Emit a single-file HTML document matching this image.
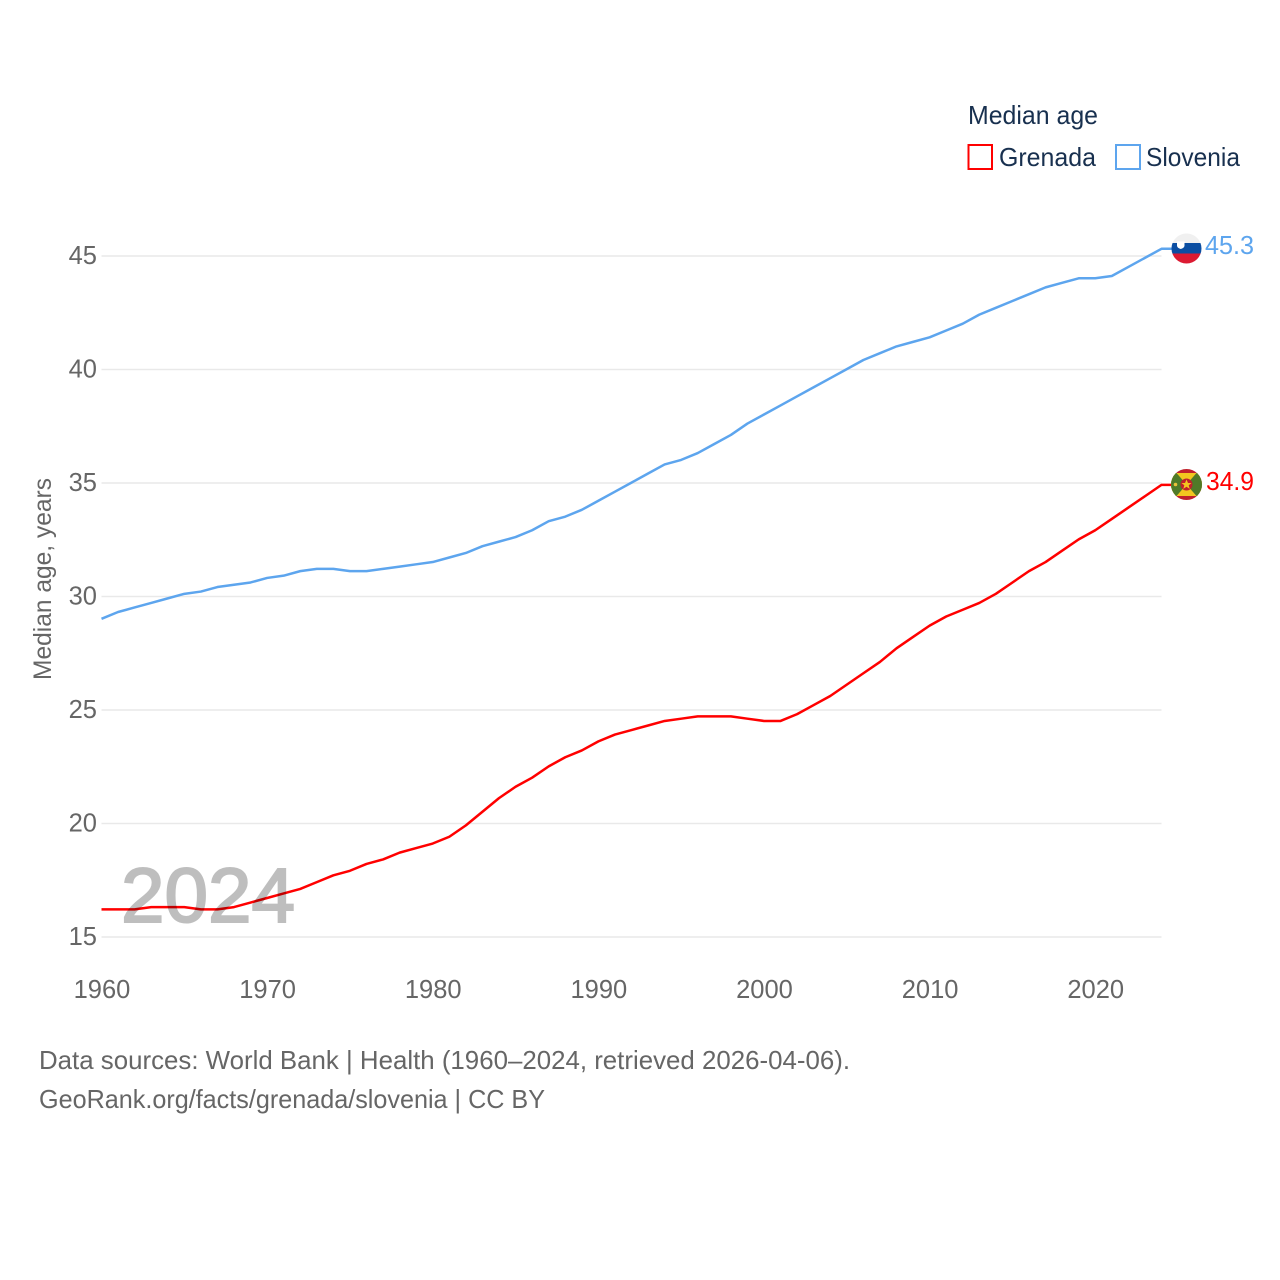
<!DOCTYPE html>
<html lang="en">
<head>
<meta charset="utf-8">
<title>Median age: Grenada and Slovenia</title>
<style>
html,body{margin:0;padding:0;background:#fff}
svg{display:block}
text{font-family:"Liberation Sans",sans-serif}
</style>
</head>
<body>
<svg id="chart" xmlns="http://www.w3.org/2000/svg" width="1280" height="1280" viewBox="0 0 1280 1280">
  <defs>
    <clipPath id="clip-si"><circle cx="1186.5" cy="248.5" r="15"/></clipPath>
    <clipPath id="clip-gd"><circle cx="1186.5" cy="484.5" r="15.5"/></clipPath>
  </defs>
  <g id="grid"></g>
  <g id="yticks"></g>
  <g id="xticks"></g>
  <text transform="translate(51,680) rotate(-90)" font-size="25" fill="#666" textLength="202" lengthAdjust="spacingAndGlyphs">Median age, years</text>
  <g id="lines"></g>
  <text x="121" y="922" font-size="77" fill="#000" stroke="#000" stroke-width="2" opacity="0.25" textLength="174" lengthAdjust="spacingAndGlyphs">2024</text>

  <text x="968" y="124" font-size="26" fill="#18304f" textLength="130" lengthAdjust="spacingAndGlyphs">Median age</text>
  <rect x="968.5" y="145" width="23.5" height="24" fill="#fff" stroke="#ff0000" stroke-width="2"/>
  <text x="999" y="166" font-size="26" fill="#18304f" textLength="97" lengthAdjust="spacingAndGlyphs">Grenada</text>
  <rect x="1116" y="145" width="24" height="24" fill="#fff" stroke="#5da5ee" stroke-width="2"/>
  <text x="1146" y="166" font-size="26" fill="#18304f" textLength="94" lengthAdjust="spacingAndGlyphs">Slovenia</text>

  <g clip-path="url(#clip-si)">
    <rect x="1170" y="232" width="34" height="11" fill="#f0f0f0"/>
    <rect x="1170" y="243" width="34" height="10.500" fill="#0b4ea2"/>
    <rect x="1170" y="253.500" width="34" height="11" fill="#dc1a32"/>
    <path d="M1177 241.500h7.500v4q0 2.500-3.750 3.500q-3.750-1-3.750-3.500z" fill="#fff"/>
  </g>
  <g clip-path="url(#clip-gd)">
    <rect x="1170" y="468" width="34" height="34" fill="#c0202c"/>
    <rect x="1165" y="473" width="44" height="23" fill="#f2c61f"/>
    <path d="M1165 473H1176.500L1186.500 484.500L1176.500 496H1165zM1208 473H1196.500L1186.500 484.500L1196.500 496H1208z" fill="#4f7a28"/>
    <circle cx="1175.500" cy="484.500" r="1.800" fill="#e8c23a"/>
    <circle cx="1186.500" cy="484.500" r="6" fill="#c0202c"/>
    <path d="M1186.500 479.500l1.500 3.500h3.500l-2.800 2.300 1 3.600-3.200-2.100-3.200 2.100 1-3.600-2.800-2.300h3.500z" fill="#f2c61f"/>
  </g>
  <text x="1205" y="254" font-size="26" fill="#5da5ee" textLength="49" lengthAdjust="spacingAndGlyphs">45.3</text>
  <text x="1206" y="490" font-size="26" fill="#ff0000" textLength="48" lengthAdjust="spacingAndGlyphs">34.9</text>

  <text x="39" y="1069" font-size="26" fill="#666" textLength="811" lengthAdjust="spacingAndGlyphs">Data sources: World Bank | Health (1960–2024, retrieved 2026-04-06).</text>
  <text x="39" y="1108" font-size="26" fill="#666" textLength="506" lengthAdjust="spacingAndGlyphs">GeoRank.org/facts/grenada/slovenia | CC BY</text>
</svg>
<script>
const years = [1960,1961,1962,1963,1964,1965,1966,1967,1968,1969,1970,1971,1972,1973,1974,1975,1976,1977,1978,1979,1980,1981,1982,1983,1984,1985,1986,1987,1988,1989,1990,1991,1992,1993,1994,1995,1996,1997,1998,1999,2000,2001,2002,2003,2004,2005,2006,2007,2008,2009,2010,2011,2012,2013,2014,2015,2016,2017,2018,2019,2020,2021,2022,2023,2024];
const slovenia = [29.0,29.3,29.5,29.7,29.9,30.1,30.2,30.4,30.5,30.6,30.8,30.9,31.1,31.2,31.2,31.1,31.1,31.2,31.3,31.4,31.5,31.7,31.9,32.2,32.4,32.6,32.9,33.3,33.5,33.8,34.2,34.6,35.0,35.4,35.8,36.0,36.3,36.7,37.1,37.6,38.0,38.4,38.8,39.2,39.6,40.0,40.4,40.7,41.0,41.2,41.4,41.7,42.0,42.4,42.7,43.0,43.3,43.6,43.8,44.0,44.0,44.1,44.5,44.9,45.3];
const grenada = [16.2,16.2,16.2,16.3,16.3,16.3,16.2,16.2,16.3,16.5,16.7,16.9,17.1,17.4,17.7,17.9,18.2,18.4,18.7,18.9,19.1,19.4,19.9,20.5,21.1,21.6,22.0,22.5,22.9,23.2,23.6,23.9,24.1,24.3,24.5,24.6,24.7,24.7,24.7,24.6,24.5,24.5,24.8,25.2,25.6,26.1,26.6,27.1,27.7,28.2,28.7,29.1,29.4,29.7,30.1,30.6,31.1,31.5,32.0,32.5,32.9,33.4,33.9,34.4,34.9];
const yTickValues = [15,20,25,30,35,40,45];
const xTickValues = [1960,1970,1980,1990,2000,2010,2020];

const NS = 'http://www.w3.org/2000/svg';
const xScale = function (year) { return 101.5 + (year - 1960) * (1060 / 64); };
const yScale = function (value) { return 937 - (value - 15) * (681 / 30); };
const lineScaleY = function (value) { return yScale(value) - 0.4; };

yTickValues.forEach(function (v) {
  const line = document.createElementNS(NS, 'line');
  
  
  line.setAttribute('x1', xScale(1960));
  line.setAttribute('x2', xScale(2024));
  line.setAttribute('y1', yScale(v));
  line.setAttribute('y2', yScale(v));
  line.setAttribute('stroke', '#e9e9e9');
  line.setAttribute('stroke-width', '1.5');
  document.getElementById('grid').appendChild(line);

  const label = document.createElementNS(NS, 'text');
  
  
  label.setAttribute('x', 97);
  label.setAttribute('y', yScale(v) + 8);
  label.setAttribute('text-anchor', 'end');
  label.setAttribute('font-size', '25.500');
  label.setAttribute('fill', '#666');
  label.textContent = v;
  document.getElementById('yticks').appendChild(label);
});

xTickValues.forEach(function (y) {
  const label = document.createElementNS(NS, 'text');
  
  
  label.setAttribute('x', xScale(y) + 0.5);
  label.setAttribute('y', 998);
  label.setAttribute('text-anchor', 'middle');
  label.setAttribute('font-size', '25.500');
  label.setAttribute('fill', '#666');
  label.textContent = y;
  document.getElementById('xticks').appendChild(label);
});

function drawSeries(name, values, color) {
  const pts = values.map(function (v, i) {
    return xScale(years[i]).toFixed(2) + ',' + lineScaleY(v).toFixed(2);
  });
  const last = lineScaleY(values[values.length - 1]).toFixed(2);
  const path = document.createElementNS(NS, 'polyline');
  
  
  path.setAttribute('points', pts.join(' ') + ' 1172,' + last);
  path.setAttribute('fill', 'none');
  path.setAttribute('stroke', color);
  path.setAttribute('stroke-width', '2.500');
  path.setAttribute('stroke-linejoin', 'round');
  document.getElementById('lines').appendChild(path);
}
drawSeries('slovenia', slovenia, '#5da5ee');
drawSeries('grenada', grenada, '#ff0000');
</script>
</body>
</html>
